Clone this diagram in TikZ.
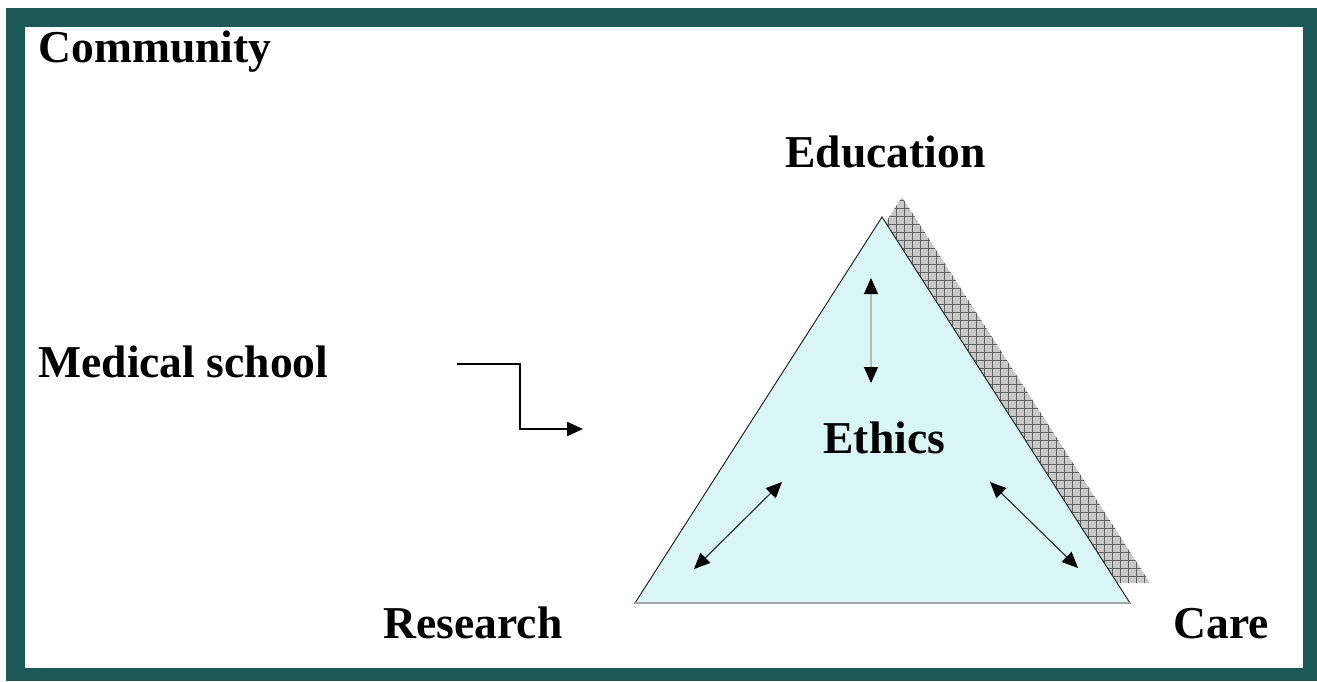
\documentclass[tikz,border=0pt]{standalone}
\usepackage{fontspec}
\setmainfont{Liberation Serif}
\usetikzlibrary{arrows.meta}
\definecolor{frameteal}{RGB}{28,88,88}
\definecolor{trifill}{RGB}{217,245,246}
\begin{document}
\begin{tikzpicture}[x=0.5pt,y=-0.5pt,
  lbl/.style={anchor=base west,inner sep=0pt,font=\fontsize{22.8}{27}\selectfont\bfseries},
  dbl/.style={{Triangle[length=8pt,width=7pt,color=black]}-{Triangle[length=8pt,width=7pt,color=black]}, line width=0.6pt},
  ]
\useasboundingbox (0,0) rectangle (1317,681);
\fill[white] (0,0) rectangle (1317,681);
\fill[frameteal] (6,8) rectangle (1317,681);
\fill[white] (25,27) rectangle (1303,668);
% shadow
\coordinate (sa) at (902,197);
\coordinate (sl) at (655,583);
\coordinate (sr) at (1150,583);
\begin{scope}
  \clip (sa) -- (sl) -- (sr) -- cycle;
  \fill[gray!42] (sa) -- (sl) -- (sr) -- cycle;
  \draw[gray!75!black, line width=0.5pt, step=4pt] (640,190) grid (1160,590);
\end{scope}
% triangle
\coordinate (apex) at (882,217);
\coordinate (bl) at (635,603);
\coordinate (br) at (1130,603);
\draw[fill=trifill, line width=0.5pt, draw=black!85] (apex) -- (bl) -- (br) -- cycle;
\draw[gray!70, line width=1pt] (bl) -- (br);
% labels
\node[lbl] (community) at (38,62) {Community};
\node[lbl] (education) at (785,167) {Education};
\node[lbl] (medical) at (38,377) {Medical school};
\node[lbl] (ethics) at (823,453) {Ethics};
\node[lbl] (research) at (383,638) {Research};
\node[lbl] (care) at (1173,638) {Care};
% arrows
\coordinate (v1) at (871,278);
\coordinate (v2) at (871,383);
\draw[dbl, draw=gray!55] (v1) -- (v2);
\coordinate (l1) at (694,569);
\coordinate (l2) at (782,482);
\draw[dbl, draw=black!80] (l1) -- (l2);
\coordinate (r1) at (990,482);
\coordinate (r2) at (1078,568);
\draw[dbl, draw=black!80] (r1) -- (r2);
% elbow arrow
\coordinate (e1) at (457,364);
\coordinate (e2) at (520,364);
\coordinate (e3) at (520,429);
\coordinate (e4) at (583,429);
\draw[line width=1.1pt, -{Triangle[length=8pt,width=7pt]}] (e1) -- (e2) -- (e3) -- (e4);
\end{tikzpicture}
\end{document}
